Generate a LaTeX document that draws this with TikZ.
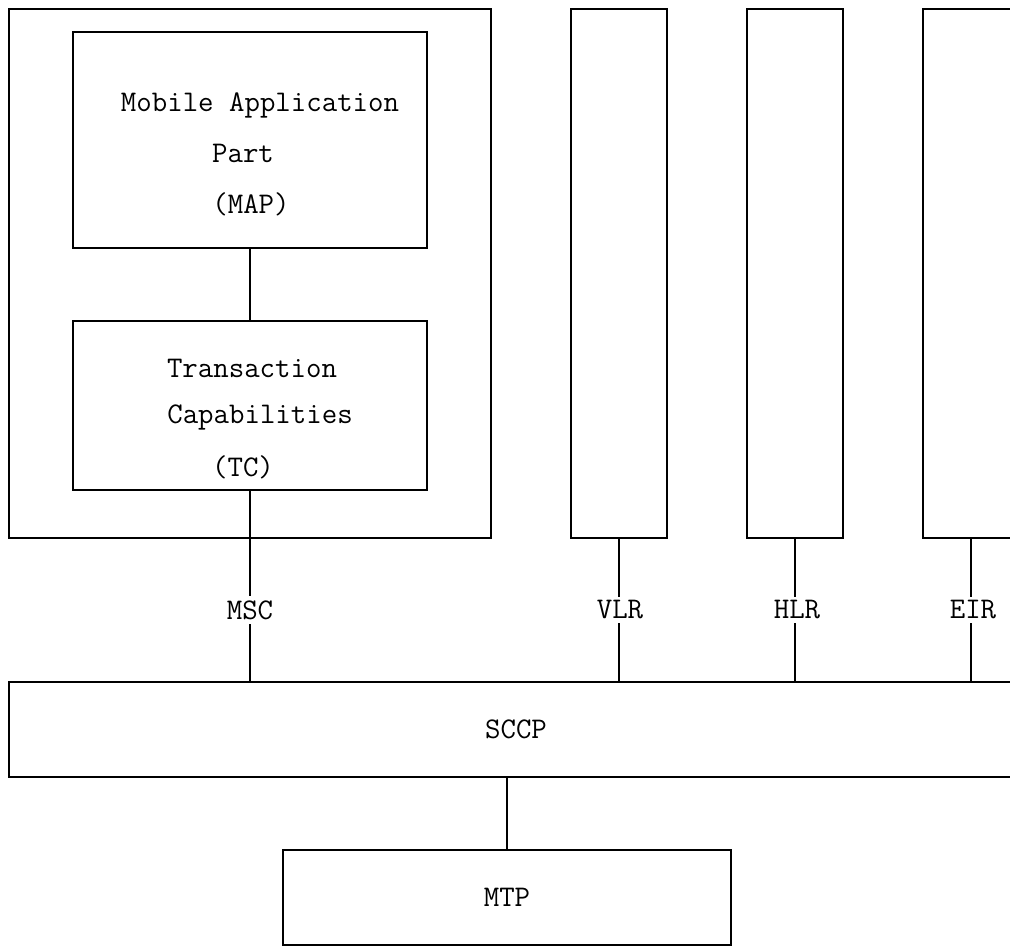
\documentclass[tikz,border=0pt]{standalone}

\tikzset{every picture/.style={line width=1pt}}
\tikzset{
  layerbox/.style={draw, rectangle, inner sep=0pt},
  layertext/.style={inner sep=0.75pt, font=\ttfamily\fontsize{22.5}{27}\selectfont},
  linklabel/.style={layertext, fill=white, inner sep=3pt}
}

\begin{document}
\begin{tikzpicture}[x=0.75pt,y=0.75pt,yscale=-1,xscale=1]
\useasboundingbox (0,0) rectangle (1010,947);
\clip (0,0) rectangle (1010,947);

% MSC frame
\node [layerbox, minimum width=361.5pt, minimum height=396.75pt] (mscframe) at (250,273.5) {};
% MAP box
\node [layerbox, minimum width=265.5pt, minimum height=162pt] (map) at (250,140) {};
% Text Node
\node [layertext] (mapline1) at (260,105) {Mobile Application};
\node [layertext] (mapline2) at (243,153) {Part};
\node [layertext] (mapline3) at (251,204) {(MAP)};
% TC box
\node [layerbox, minimum width=265.5pt, minimum height=126.75pt] (tc) at (250,405.5) {};
% Text Node
\node [layertext] (tcline1) at (252,368) {Transaction};
\node [layertext] (tcline2) at (260,417) {Capabilities};
\node [layertext] (tcline3) at (243,467) {(TC)};

% VLR, HLR, EIR columns
\node [layerbox, minimum width=72pt, minimum height=396.75pt] (vlr) at (619,273.5) {};
\node [layerbox, minimum width=72pt, minimum height=396.75pt] (hlr) at (795,273.5) {};
\node [layerbox, minimum width=72pt, minimum height=396.75pt] (eir) at (971,273.5) {};

% SCCP and MTP
\node [layerbox, layertext, minimum width=760.5pt, minimum height=71.25pt] (sccp) at (516,729.5) {SCCP};
\node [layerbox, layertext, minimum width=336pt, minimum height=71.25pt] (mtp) at (507,897.5) {MTP};

% Connectors
\draw (map) -- (tc);
\draw (tc.south) -- (tc.south |- sccp.north);
\draw (vlr.south) -- (vlr.south |- sccp.north);
\draw (hlr.south) -- (hlr.south |- sccp.north);
\draw (eir.south) -- (eir.south |- sccp.north);
\draw (sccp.south -| mtp.north) -- (mtp.north);

% Text Node
\node [linklabel] (msclabel) at (250,610) {MSC};
\node [linklabel] (vlrlabel) at (620,610) {VLR};
\node [linklabel] (hlrlabel) at (797,610) {HLR};
\node [linklabel] (eirlabel) at (973,610) {EIR};
\end{tikzpicture}
\end{document}
